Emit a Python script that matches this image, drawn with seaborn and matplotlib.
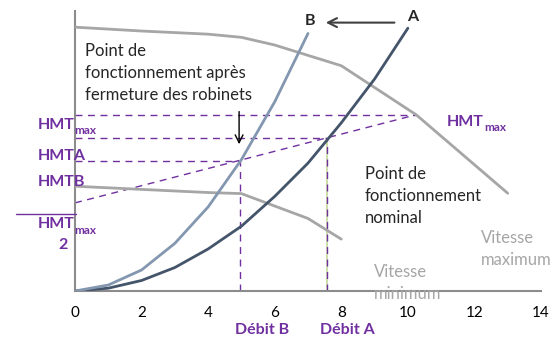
import matplotlib
matplotlib.use("Agg")
import matplotlib.pyplot as plt
import seaborn as sns
import pandas as pd

sns.set_theme(style="white")
plt.rcParams["font.family"] = ["Lato", "DejaVu Sans"]

# Pump curves (débit vs HMT)
q_max_speed = [0, 2, 4, 5, 6, 8, 10.25, 13]
h_max_speed = [75.3, 74.2, 73.3, 72.4, 70.2, 64.3, 50.3, 27.9]
q_min_speed = [0, 2, 4, 5, 7, 8]
h_min_speed = [29.9, 29.0, 28.1, 27.8, 20.7, 14.8]

# Network curves: A (nominal), B (after closing the valves)
q_net_a = [0, 1, 2, 3, 4, 5, 6, 7, 8, 9, 10]
h_net_a = [0, 0.8, 3.0, 6.7, 12.0, 18.5, 27.0, 36.5, 48.0, 60.5, 75.0]
q_net_b = [0, 1, 2, 3, 4, 5, 6, 7]
h_net_b = [0, 1.7, 6.0, 13.6, 24.0, 37.5, 54.0, 73.5]

# Operating points
hmt_max = 50.3
q_hmt_max = 10.25
q_a, hmt_a = 7.56, 43.7
q_b, hmt_b = 4.97, 37.2

x_ticks = [0, 2, 4, 6, 8, 10, 12, 14]
y_ticks = [0, 10, 20, 30, 40, 50, 60, 70, 80]

W, H = 553, 339
fig = plt.figure(figsize=(W / 100, H / 100), dpi=100)
ax = fig.add_axes([75 / W, 1 - 291 / H, (541 - 75) / W, (291 - 10.7) / H])

purple = "#7030A0"
gray_curve = "#A6A6A6"
col_a = "#44546A"
col_b = "#8497B0"

curves = pd.DataFrame({
    "q": q_max_speed + q_min_speed + q_net_a + q_net_b,
    "h": h_max_speed + h_min_speed + h_net_a + h_net_b,
    "courbe": (["max"] * len(q_max_speed) + ["min"] * len(q_min_speed)
               + ["A"] * len(q_net_a) + ["B"] * len(q_net_b)),
})
sns.lineplot(data=curves, x="q", y="h", hue="courbe", sort=False, estimator=None,
             palette={"max": gray_curve, "min": gray_curve, "A": col_a, "B": col_b},
             linewidth=2, legend=False, ax=ax, zorder=3)

dash = dict(color=purple, lw=1, dashes=(5, 4), zorder=2)
# horizontal levels
ax.plot([0, q_hmt_max], [hmt_max, hmt_max], **dash)
ax.plot([0, q_a], [hmt_a, hmt_a], **dash)
ax.plot([0, q_b], [hmt_b, hmt_b], **dash)
# line from HMTmax/2 at zero flow to HMTmax
ax.plot([0, q_hmt_max], [hmt_max / 2, hmt_max], **dash)
# verticals down to the flow axis
ax.plot([q_b, q_b], [0, hmt_b], **dash)
ax.plot([q_a, q_a], [0, hmt_a], color="#C3D69B", lw=1.2, zorder=1)
ax.plot([q_a, q_a], [0, hmt_a], **dash)

ax.set_xlim(0, 14)
ax.set_ylim(0, 80)
ax.set_xticks(x_ticks)
ax.set_yticks(y_ticks)
ax.set_yticklabels([])
ax.set_xlabel("")
ax.set_ylabel("")
for s in ["top", "right"]:
    ax.spines[s].set_visible(False)
for s in ["left", "bottom"]:
    ax.spines[s].set_color("#8C8C8C")
    ax.spines[s].set_linewidth(1.5)
ax.tick_params(axis="x", direction="out", length=5, width=1, color="#8C8C8C",
               pad=6, labelsize=11, labelcolor="black")
ax.tick_params(axis="y", direction="out", length=4, width=1, color="#8C8C8C")

# annotations
ax.annotate("", xy=(4.93, 41.1), xytext=(4.93, 52),
            arrowprops=dict(arrowstyle="->", color="black", lw=1, mutation_scale=14))
ax.annotate("", xy=(7.45, 76.6), xytext=(9.68, 76.6),
            arrowprops=dict(arrowstyle="->", color="#404040", lw=1.5, mutation_scale=16),
            annotation_clip=False)
ax.text(10.15, 78.2, "A", fontsize=11.5, fontweight="bold", ha="center", va="center",
        clip_on=False)
ax.text(7.05, 77.0, "B", fontsize=11.5, fontweight="bold", ha="center", va="center",
        clip_on=False)

txt = dict(fontsize=12, ha="left", va="top", linespacing=1.45)
ax.text(0.3, 70.8, "Point de\nfonctionnement après\nfermeture des robinets", **txt)
ax.text(8.7, 35.6, "Point de\nfonctionnement\nnominal", **txt)
ax.text(12.2, 17.4, "Vitesse\nmaximum", color="#A6A6A6", **txt)
ax.text(8.97, 7.6, "Vitesse\nminimum", color="#A6A6A6", clip_on=False, **txt)


def ftext(x, y, s, **kw):
    fig.text(x / W, 1 - y / H, s, **kw)


lab = dict(color=purple, fontweight="bold", va="center")
big, small = 11.5, 8.5
ftext(38, 125, "HMT", fontsize=big, ha="left", **lab)
ftext(74, 131, "max", fontsize=small, ha="left", **lab)
ftext(38, 156, "HMTA", fontsize=big, ha="left", **lab)
ftext(38, 182, "HMTB", fontsize=big, ha="left", **lab)
ftext(38, 224, "HMT", fontsize=big, ha="left", **lab)
ftext(74, 230, "max", fontsize=small, ha="left", **lab)
ftext(63, 245, "2", fontsize=big, ha="center", **lab)
fig.add_artist(plt.Line2D([16 / W, 76 / W], [1 - 214.3 / H, 1 - 214.3 / H],
                          color=purple, lw=1))
ftext(447, 122, "HMT", fontsize=big, ha="left", **lab)
ftext(484, 127, "max", fontsize=small, ha="left", **lab)
ftext(262, 330, "Débit B", fontsize=big, ha="center", **lab)
ftext(347, 330, "Débit A", fontsize=big, ha="center", **lab)

fig.savefig("out.png", dpi=100)
